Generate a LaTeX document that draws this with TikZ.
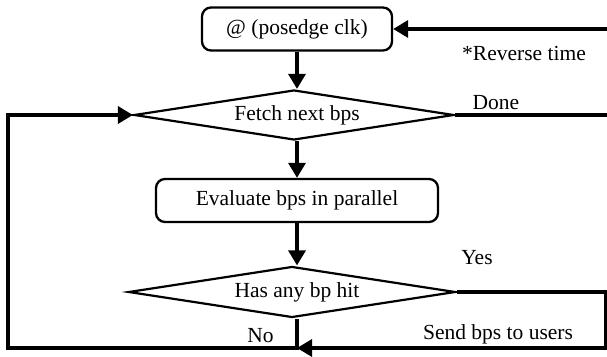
\documentclass[tikz,border=0pt]{standalone}
\usepackage{fontspec}
\setmainfont{Liberation Serif}
\usetikzlibrary{shapes.geometric,arrows.meta}
\begin{document}
\begin{tikzpicture}[x=1pt,y=-1pt,
  font=\fontsize{21.5}{25}\selectfont,
  boxnode/.style={draw,line width=2.3pt,rounded corners=9pt,minimum height=43pt,inner sep=0pt},
  decision/.style={draw,diamond,line width=2.2pt,inner sep=0pt,shape aspect=6},
  flow/.style={line width=3.3pt,-{Triangle[length=15pt,width=17pt]}},
  plain/.style={line width=3.3pt},
  lbl/.style={inner sep=0pt}]
\useasboundingbox (0,0) rectangle (607,356);
% nodes
\node[boxnode,minimum width=190pt] (b1) at (297,29) {@ (posedge clk)};
\node[decision,minimum width=320pt,minimum height=50pt] (d1) at (294,115) {\hspace*{6pt}Fetch next bps};
\node[boxnode,minimum width=282pt] (b2) at (297,200.5) {Evaluate bps in parallel};
\node[decision,minimum width=327pt,minimum height=51pt] (d2) at (292,292) {\hspace*{10pt}Has any bp hit};
% labels
\node[lbl] (rt) at (524,53) {*Reverse time};
\node[lbl] (done) at (496,103) {Done};
\node[lbl] (yes) at (477,258) {Yes};
\node[lbl] (no) at (260.5,336) {No};
\node[lbl] (send) at (498,334) {Send bps to users};
% free ends
\coordinate (tr) at (607,29);
\coordinate (dr) at (607,115);
\coordinate (bl) at (8,348);
\coordinate (br) at (606,348);
% connectors
\draw[flow] (tr) -- (b1.east);
\draw[flow] (b1.south) -- (b1.south |- d1.north);
\draw[plain] (d1.east) -- (dr);
\draw[flow] (b1.south |- d1.south) -- (b2.north);
\draw[flow] (b2.south) -- (b2.south |- d2.north);
\draw[flow] (b1.south |- d2.south) |- (bl) |- (d1.west);
\draw[flow] (d2.east) -| (br) -- (b1.south |- br);
\end{tikzpicture}
\end{document}
